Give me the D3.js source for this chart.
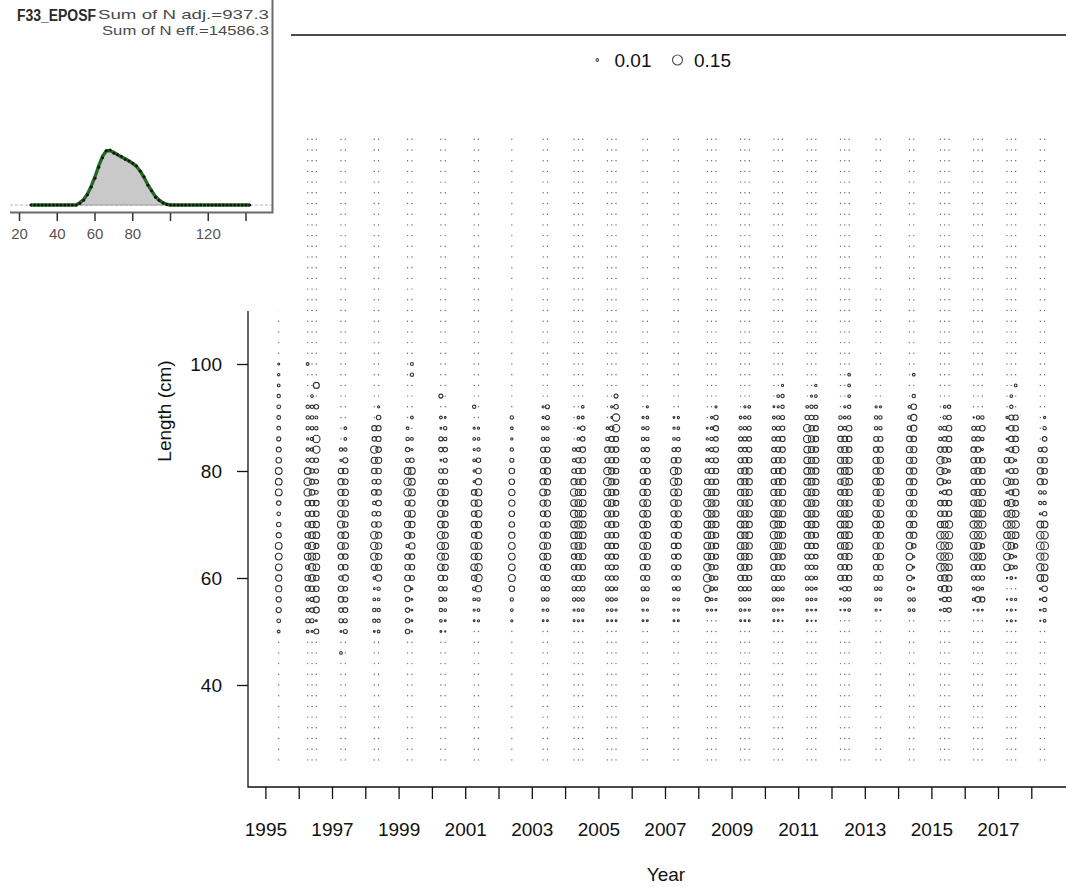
<!DOCTYPE html>
<html><head><meta charset="utf-8">
<script src="https://cdn.jsdelivr.net/npm/d3@7"></script>
<style>body{margin:0;background:#fff} svg{display:block} text{font-family:Arial,"Liberation Sans",sans-serif}</style>
</head><body><svg id="c" width="1066" height="887"></svg>
<script>
// ---------------- data ----------------
const lengthBins = [26,28,30,32,34,36,38,40,42,44,46,48,50,52,54,56,58,60,62,64,66,68,70,72,74,76,78,80,82,84,86,88,90,92,94,96,98,100,102,104,106,108,110,112,114,116,118,120,122,124,126,128,130,132,134,136,138,140,142];
const yearTicks = [1995,1996,1997,1998,1999,2000,2001,2002,2003,2004,2005,2006,2007,2008,2009,2010,2011,2012,2013,2014,2015,2016,2017,2018];
const lengthTicks = [40,60,80,100,120,140];
const sampleTimes = [1995.40,
 1996.27,1996.40,1996.53, 1997.27,1997.40, 1998.27,1998.40, 1999.27,1999.40,
 2000.27,2000.40, 2001.27,2001.40, 2002.40, 2003.34,2003.47,
 2004.27,2004.40,2004.53, 2005.27,2005.40,2005.53, 2006.34,2006.47, 2007.27,2007.40,
 2008.27,2008.40,2008.53, 2009.27,2009.40,2009.53, 2010.27,2010.40,2010.53,
 2011.27,2011.40,2011.53, 2012.27,2012.40,2012.53, 2013.34,2013.47, 2014.34,2014.47,
 2015.27,2015.40,2015.53, 2016.27,2016.40,2016.53, 2017.27,2017.40,2017.53, 2018.27,2018.40];
// observed proportions (per mille) for lengths 46,48,...,100 ; other lengths are 0
const compStartLength = 46;
const compPermille = [
 [0,0,11,21,39,39,58,58,67,67,67,39,30,21,30,67,67,67,46,36,24,21,21,21,17,11,9,6],
 [0,0,11,24,17,13,39,46,30,67,46,46,46,39,46,81,81,67,21,17,7,17,17,17,0,0,0,11],
 [0,0,5,24,30,24,46,67,81,81,81,67,58,46,46,46,39,30,30,17,17,17,17,17,11,0,0,0],
 [0,0,36,5,54,54,46,46,67,67,39,67,58,46,46,21,30,30,30,81,81,17,13,30,0,54,0,0],
 [11,0,5,24,30,46,46,30,46,46,67,58,76,67,58,58,58,46,7,17,0,0,0,0,0,0,0,0],
 [0,0,24,24,36,36,30,58,46,46,58,67,46,58,58,58,46,46,39,17,11,11,0,0,0,0,0,0],
 [0,0,5,17,17,11,5,11,58,81,81,81,46,30,17,46,30,46,58,81,30,39,0,0,0,0,0,0],
 [0,0,11,17,17,11,17,58,58,58,58,58,46,30,46,46,36,46,58,46,39,39,30,7,0,0,0,0],
 [0,0,30,30,30,30,58,46,46,46,17,67,58,58,39,81,81,67,24,30,17,11,0,0,0,0,0,0],
 [0,0,2,5,5,5,5,36,46,46,58,46,58,67,58,67,67,67,30,7,11,0,11,0,0,0,17,13],
 [0,0,5,11,17,24,30,46,67,81,81,81,67,67,58,67,36,30,5,30,24,5,11,0,24,0,0,0],
 [0,0,2,5,11,17,24,36,58,67,67,58,58,46,46,58,36,36,24,30,17,17,5,0,0,0,0,0],
 [0,0,0,5,7,11,17,46,67,58,67,46,58,46,58,46,7,7,11,7,11,7,0,17,0,0,0,0],
 [0,0,0,7,11,17,58,81,81,67,67,67,58,67,67,67,58,46,30,17,11,7,0,0,0,0,0,0],
 [0,0,0,7,11,17,46,76,67,67,67,58,46,46,58,58,46,46,24,17,7,11,17,0,0,0,0,0],
 [0,0,0,5,7,17,24,36,46,67,67,58,46,46,58,67,58,46,46,39,17,17,7,7,0,0,0,0],
 [0,0,0,5,11,17,30,46,58,67,58,58,46,58,58,46,58,58,46,39,17,17,24,24,0,0,0,0],
 [0,0,0,5,7,17,24,30,46,46,58,67,67,81,67,81,58,30,17,17,0,0,0,0,0,0,0,0],
 [0,0,0,7,11,17,30,46,46,58,67,67,81,67,67,58,46,46,39,24,11,7,11,0,0,0,0,0],
 [0,0,0,5,11,17,30,36,46,58,58,67,67,67,67,58,58,46,46,46,30,30,11,11,0,0,0,0],
 [0,0,0,5,7,17,24,30,30,39,46,46,46,58,67,67,91,81,39,46,17,11,0,0,0,0,0,0],
 [0,0,0,5,11,17,24,30,39,46,46,46,58,58,67,58,58,58,46,46,39,30,5,7,0,0,0,0],
 [0,0,0,5,7,11,17,30,30,39,39,46,46,46,46,46,46,46,46,46,39,81,81,30,24,0,0,0],
 [0,0,0,5,7,17,24,36,46,58,67,58,67,67,67,58,46,46,30,24,17,11,7,0,0,0,0,0],
 [0,0,0,5,7,11,24,36,46,58,67,67,58,67,67,58,58,46,39,30,17,17,11,7,0,0,0,0],
 [0,0,0,5,7,11,17,30,39,39,46,46,58,58,67,67,81,81,46,24,11,7,5,0,0,0,0,0],
 [0,0,0,5,7,11,24,30,39,46,46,58,67,58,58,67,67,58,46,30,17,11,7,0,0,0,0,0],
 [0,0,0,0,7,30,81,91,81,67,67,67,67,81,81,67,46,30,17,11,7,5,0,0,0,0,0,0],
 [0,0,0,0,7,11,24,36,46,58,58,67,67,67,67,58,46,46,30,24,17,11,7,0,0,0,0,0],
 [0,0,0,0,5,7,17,24,30,39,46,46,58,58,58,58,46,46,39,39,30,39,30,7,0,0,0,0],
 [0,0,0,5,11,17,30,46,58,67,67,67,67,58,58,58,58,46,39,30,24,17,11,0,0,0,0,0],
 [0,0,0,5,7,17,24,46,58,67,67,58,67,67,58,67,58,58,46,30,24,17,11,7,0,0,0,0],
 [0,0,0,5,7,11,24,39,46,58,58,67,58,58,67,58,58,58,46,39,30,24,17,11,0,0,0,0],
 [0,0,0,5,11,17,24,39,58,67,81,81,81,67,58,58,46,46,39,30,24,17,11,5,0,0,0,0],
 [0,0,0,5,7,17,24,39,46,58,67,67,67,67,58,58,58,46,46,39,30,24,17,7,11,0,0,0],
 [0,0,0,2,5,11,17,30,39,46,58,58,58,58,58,58,58,58,46,46,39,30,24,17,17,7,0,0],
 [0,0,0,5,7,11,17,24,30,39,46,58,58,67,67,67,67,67,67,67,81,81,30,11,0,0,0,0],
 [0,0,0,2,5,11,17,24,30,39,46,58,67,67,67,67,67,58,58,58,58,46,30,17,7,0,0,0],
 [0,0,0,2,5,7,11,17,24,30,39,46,58,58,58,58,58,58,58,46,46,39,30,17,11,7,0,0],
 [0,0,0,0,2,5,5,46,46,46,58,58,67,58,58,46,46,58,58,46,46,30,17,0,0,0,0,0],
 [0,0,0,0,5,17,30,46,46,58,67,67,67,67,58,58,81,67,58,58,46,17,11,7,0,0,0,0],
 [0,0,0,0,11,17,30,46,46,58,67,67,67,67,58,58,67,67,58,46,46,46,17,17,11,11,11,0],
 [0,0,0,0,7,13,17,36,46,58,58,58,67,67,58,58,67,58,58,46,36,17,17,7,0,0,0,0],
 [0,0,0,0,2,13,17,36,46,58,58,58,67,67,67,67,67,58,58,46,36,17,17,7,0,0,0,0],
 [0,0,0,0,11,17,30,46,58,67,67,58,58,58,58,58,58,58,58,58,46,30,17,11,0,0,0,0],
 [0,0,0,0,11,17,5,5,5,7,30,58,58,58,58,58,58,58,58,58,46,58,58,46,17,0,11,0],
 [0,0,0,0,5,5,30,46,91,81,91,81,58,46,46,7,67,81,81,46,17,17,0,0,0,0,0,0],
 [0,0,0,0,17,30,58,58,81,91,91,81,67,46,46,30,24,46,46,46,30,24,17,11,0,0,0,0],
 [0,0,0,0,30,30,46,58,67,81,67,81,81,46,46,46,17,11,17,46,46,46,30,17,0,0,0,0],
 [0,0,0,0,2,11,11,30,46,81,67,81,81,67,58,46,46,46,46,46,24,24,2,0,0,0,0,0],
 [0,0,0,0,7,46,24,30,46,81,67,81,81,67,67,58,46,58,46,46,30,24,17,0,0,0,0,0],
 [0,0,0,0,5,39,11,30,46,67,30,81,81,67,67,58,46,46,46,7,17,46,17,0,0,0,0,0],
 [0,0,0,2,2,2,0,2,67,67,91,67,81,58,46,7,81,7,46,7,5,5,7,0,0,0,0,0],
 [0,0,0,7,7,7,0,11,30,30,67,81,81,81,81,39,46,39,46,39,46,46,39,17,11,0,0,0],
 [0,0,0,2,2,7,0,2,17,7,30,67,81,67,46,67,46,39,7,67,46,46,39,0,0,11,0,0],
 [0,0,0,2,5,5,5,67,81,81,91,81,67,7,17,17,58,58,46,24,0,0,0,0,0,0,0,0],
 [0,0,0,11,17,30,46,67,67,81,91,81,67,30,17,17,46,46,46,39,30,17,7,0,0,0,0,0]
];
const legendValues = [0.01, 0.15];
const legendLabels = ["0.01", "0.15"];
// inset: aggregated length composition for the fleet (per length bin, 26..142)
const insetObs = [0,0,0,0,0,0,0,0,0,0,0,0,0,
 0.002,0.006,0.013,0.023,0.034,0.048,0.060,0.069,0.070,0.066,0.064,0.062,0.058,0.056,0.053,0.050,0.043,0.036,0.025,0.018,0.010,0.006,0.0025,0.0006,
 0,0,0,0,0,0,0,0,0,0,0,0,0,0,0,0,0,0,0,0,0,0];
const insetExp = [0,0,0,0,0,0,0,0,0,0,0,0,0,
 0.003,0.007,0.014,0.024,0.036,0.050,0.062,0.069,0.069,0.067,0.064,0.061,0.059,0.056,0.053,0.049,0.043,0.035,0.026,0.018,0.011,0.006,0.003,0.001,
 0,0,0,0,0,0,0,0,0,0,0,0,0,0,0,0,0,0,0,0,0,0];
const insetTicks = [20,40,60,80,100,120,140];
const insetTickLabels = ["20","40","60","80","","120",""];
const insetTitle = "F33_EPOSF";
const insetNote1 = "Sum of N adj.=937.3";
const insetNote2 = "Sum of N eff.=14586.3";

// ---------------- drawing ----------------
const svg = d3.select("#c");
const box = {l:248, r:1084, t:35, b:787};
const x = d3.scaleLinear().domain([1995, 2018]).range([265.4, 1031.3]);
const y = d3.scaleLinear().domain([40, 100]).range([685, 364]);
const rad = d3.scaleSqrt().domain([0, 0.15]).range([0, 5.0]);

// points
const pts = [];
sampleTimes.forEach((t, c) => {
  const row = compPermille[c];
  lengthBins.forEach(L => {
    const i = (L - compStartLength) / 2;
    const v = (i >= 0 && i < row.length) ? (row[i] || 0) / 1000 : 0;
    pts.push({t, L, v});
  });
});
const g = svg.append("g");
g.selectAll("circle.z").data(pts.filter(d => d.v === 0)).join("circle")
  .attr("cx", d => x(d.t)).attr("cy", d => y(d.L)).attr("r", 0.7)
  .attr("fill", "#666");
g.selectAll("circle.b").data(pts.filter(d => d.v > 0)).join("circle")
  .attr("cx", d => x(d.t)).attr("cy", d => y(d.L)).attr("r", d => rad(d.v))
  .attr("fill", "none").attr("stroke", "#333").attr("stroke-width", 1.1);

// box lines (left, bottom, top)
svg.append("path").attr("d", `M${box.r},${box.t}H${box.l}V${box.b}H${box.r}`)
  .attr("fill", "none").attr("stroke", "#111").attr("stroke-width", 1.3);

// x axis
const xa = svg.append("g").attr("transform", `translate(0,${box.b})`)
  .call(d3.axisBottom(x).tickValues(yearTicks).tickSize(12)
    .tickFormat(d => (d % 2 === 1 ? String(d) : "")));
xa.select(".domain").remove();
xa.selectAll("line").attr("stroke", "#111").attr("stroke-width", 1.3);
xa.selectAll("text").attr("y", 49).attr("dy", 0).attr("font-size", 19)
  .attr("fill", "#111").attr("font-family", "Arial, 'Liberation Sans', sans-serif");

// y axis
const ya = svg.append("g").attr("transform", `translate(${box.l},0)`)
  .call(d3.axisLeft(y).tickValues(lengthTicks).tickSize(11).tickFormat(d3.format("d")));
ya.select(".domain").remove();
ya.selectAll("line").attr("stroke", "#111").attr("stroke-width", 1.3);
ya.selectAll("text").attr("x", -26).attr("dy", "0.35em").attr("font-size", 19)
  .attr("fill", "#111").attr("font-family", "Arial, 'Liberation Sans', sans-serif");

svg.append("text").attr("x", (box.l + box.r) / 2).attr("y", 881)
  .attr("text-anchor", "middle").attr("font-size", 19).attr("fill", "#111").text("Year");
svg.append("text").attr("transform", `translate(171,${(box.t + box.b) / 2}) rotate(-90)`)
  .attr("text-anchor", "middle").attr("font-size", 19).attr("fill", "#111").text("Length (cm)");

// legend
const legX = [597.3, 677.5];
const legTX = [614.5, 694];
legendValues.forEach((v, i) => {
  svg.append("circle").attr("cx", legX[i]).attr("cy", 60).attr("r", rad(v))
    .attr("fill", "none").attr("stroke", "#555").attr("stroke-width", 1.2);
  svg.append("text").attr("x", legTX[i]).attr("y", 67).attr("font-size", 19)
    .attr("fill", "#111").text(legendLabels[i]);
});

// ---------------- inset ----------------
const ins = svg.append("g");
ins.append("rect").attr("x", 0).attr("y", 0).attr("width", 291).attr("height", 311).attr("fill", "#fff");
const ix = d3.scaleLinear().domain([20, 140]).range([19.5, 246]);
const iy = d3.scaleLinear().domain([0, 0.07]).range([205, 150]);
const inData = lengthBins.map((L, i) => ({L, o: insetObs[i], e: insetExp[i]}));
ins.append("line").attr("x1", 10).attr("x2", 272).attr("y1", 205).attr("y2", 205)
  .attr("stroke", "#b5b5b5").attr("stroke-width", 1).attr("stroke-dasharray", "3,2");
ins.append("path").datum(inData)
  .attr("d", d3.area().x(d => ix(d.L)).y0(iy(0)).y1(d => iy(d.o)))
  .attr("fill", "#c9c9c9").attr("stroke", "#8c8c8c").attr("stroke-width", 0.8);
ins.append("path").datum(inData)
  .attr("d", d3.line().x(d => ix(d.L)).y(d => iy(d.e)))
  .attr("fill", "none").attr("stroke", "#236b23").attr("stroke-width", 3.4).attr("stroke-linejoin", "round");
ins.selectAll("circle.p").data(inData).join("circle")
  .attr("cx", d => ix(d.L)).attr("cy", d => iy(d.o)).attr("r", 1.5).attr("fill", "#151515");
// frame
ins.append("path").attr("d", "M10,212.5H272.5V0").attr("fill", "none")
  .attr("stroke", "#6a6a6a").attr("stroke-width", 2);
ins.selectAll("line.t").data(insetTicks).join("line")
  .attr("x1", d => ix(d)).attr("x2", d => ix(d)).attr("y1", 213).attr("y2", 221)
  .attr("stroke", "#333").attr("stroke-width", 1.5);
ins.selectAll("text.t").data(insetTicks).join("text")
  .attr("x", d => ix(d)).attr("y", 239).attr("text-anchor", "middle")
  .attr("font-size", 15).attr("fill", "#555").text((d, i) => insetTickLabels[i]);
ins.append("text").attr("x", 17).attr("y", 21).attr("font-size", 16).attr("font-weight", "bold")
  .attr("fill", "#2a2a2a").attr("textLength", 79).attr("lengthAdjust", "spacingAndGlyphs").text(insetTitle);
ins.append("text").attr("x", 98).attr("y", 19).attr("font-size", 13)
  .attr("fill", "#4a4a4a").attr("textLength", 171).attr("lengthAdjust", "spacingAndGlyphs").text(insetNote1);
ins.append("text").attr("x", 102).attr("y", 35).attr("font-size", 13)
  .attr("fill", "#4a4a4a").attr("textLength", 167).attr("lengthAdjust", "spacingAndGlyphs").text(insetNote2);
</script>
</body></html>
